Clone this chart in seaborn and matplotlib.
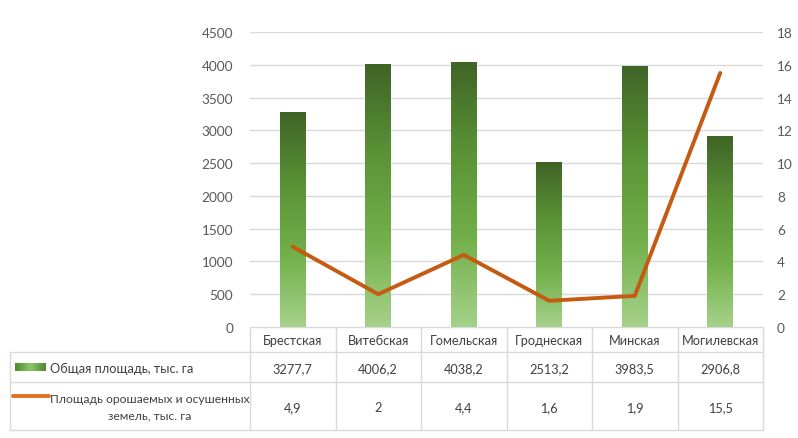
import numpy as np
import pandas as pd
import matplotlib
matplotlib.use("Agg")
import matplotlib.pyplot as plt
from matplotlib.colors import LinearSegmentedColormap
import seaborn as sns

regions = ["Брестская", "Витебская", "Гомельская", "Гроднеская", "Минская", "Могилевская"]
total_area = [3277.7, 4006.2, 4038.2, 2513.2, 3983.5, 2906.8]
irrigated_area = [4.9, 2, 4.4, 1.6, 1.9, 15.5]
total_label = "Общая площадь, тыс. га"
irrigated_label = "Площадь орошаемых и осушенных\nземель, тыс. га"

sns.set_theme(style="white")
plt.rcParams["font.family"] = ["Lato", "DejaVu Sans"]

W, H = 798, 439
fig = plt.figure(figsize=(W / 100, H / 100), dpi=100)

# plot area in pixel units
px_l, px_r, px_t, px_b = 250, 763, 33, 328
ax = fig.add_axes([px_l / W, 1 - px_b / H, (px_r - px_l) / W, (px_b - px_t) / H])

df = pd.DataFrame({"region": regions, "total": total_area, "irr": irrigated_area})

tick_color = "#595959"
text_color = "#404040"
grid_color = "#d9d9d9"

sns.barplot(data=df, x="region", y="total", ax=ax, width=0.3, color="#70ad47",
            saturation=1, zorder=3)
ax.set_ylim(0, 4500)
ax.set_xlim(-0.5, len(regions) - 0.5)
ax.set_yticks(np.arange(0, 4501, 500))
ax.yaxis.grid(True, color=grid_color, linewidth=1)
ax.set_axisbelow(True)
ax.set_xlabel("")
ax.set_ylabel("")
ax.set_xticks([])
for s in ax.spines.values():
    s.set_visible(False)
ax.tick_params(axis="y", length=0, pad=12, labelsize=9.8, labelcolor=tick_color)

# vertical gradient fill inside each bar
grad_cmap = LinearSegmentedColormap.from_list(
    "bar_grad", ["#a6d18a", "#72b04a", "#5a9236", "#3f6427"])
grad = np.linspace(0, 1, 256).reshape(-1, 1)
for bar in ax.patches:
    x0, y0 = bar.get_x(), bar.get_y()
    w, h = bar.get_width(), bar.get_height()
    im = ax.imshow(grad, cmap=grad_cmap, aspect="auto", origin="lower",
                   extent=[x0, x0 + w, y0, y0 + h], zorder=3.5)
    im.set_clip_path(bar)
    bar.set_edgecolor("none")
ax.set_xlim(-0.5, len(regions) - 0.5)
ax.set_ylim(0, 4500)

ax2 = ax.twinx()
sns.lineplot(x=np.arange(len(regions)), y=df["irr"], ax=ax2, color="#c55a11",
             linewidth=2.8, zorder=5)
ax2.set_ylim(0, 18)
ax2.set_yticks(np.arange(0, 19, 2))
ax2.set_ylabel("")
for s in ax2.spines.values():
    s.set_visible(False)
ax2.tick_params(axis="y", length=0, pad=10, labelsize=9.8, labelcolor=tick_color)
ax2.grid(False)
ax.set_xlim(-0.5, len(regions) - 0.5)

# data table below the plot, drawn on an overlay in pixel coordinates
tab = fig.add_axes([0, 0, 1, 1], zorder=-1)
tab.set_xlim(0, W)
tab.set_ylim(H, 0)
tab.axis("off")

line_kw = dict(color="#d9d9d9", linewidth=1)
t_left, r0, r1, r2, r3 = 10, px_b, 353, 383, 431
tab.plot([px_l, px_r], [r0, r0], **line_kw)
for y in (r1, r2, r3):
    tab.plot([t_left, px_r], [y, y], **line_kw)
tab.plot([t_left, t_left], [r1, r3], **line_kw)

# column centres follow the category positions of the main axes
to_px = lambda xd: (ax.transData.transform((xd, 0))[0])
edges = [to_px(i - 0.5) for i in range(len(regions) + 1)]
for e in edges:
    tab.plot([e, e], [r0, r3], **line_kw)

fs = 9.2
for i, name in enumerate(regions):
    cx = to_px(i)
    tab.text(cx, (r0 + r1) / 2 + 1, name, ha="center", va="center", fontsize=fs, color=text_color)
    tab.text(cx, (r1 + r2) / 2 + 1, f"{total_area[i]:g}".replace(".", ","),
             ha="center", va="center", fontsize=fs, color=text_color)
    tab.text(cx, (r2 + r3) / 2 + 1, f"{irrigated_area[i]:g}".replace(".", ","),
             ha="center", va="center", fontsize=fs, color=text_color)

# legend keys inside the row headers
key = np.linspace(0, 1, 64).reshape(1, -1)
key_cmap = LinearSegmentedColormap.from_list("key", ["#4f8a2e", "#8cc46a", "#4f8a2e"])
tab.imshow(key, cmap=key_cmap, aspect="auto", extent=[15, 46, 372, 364], zorder=2)
tab.set_xlim(0, W)
tab.set_ylim(H, 0)
tab.text(50, (r1 + r2) / 2 + 1, total_label, ha="left", va="center", fontsize=fs, color=text_color)
tab.plot([13, 49], [397, 397], color="#e0701f", linewidth=2.8, solid_capstyle="round")
tab.text(150, (r2 + r3) / 2 + 1, irrigated_label, ha="center", va="center",
         fontsize=8.75, color=text_color, linespacing=1.6)

fig.savefig("out.png", dpi=100, facecolor="white")
